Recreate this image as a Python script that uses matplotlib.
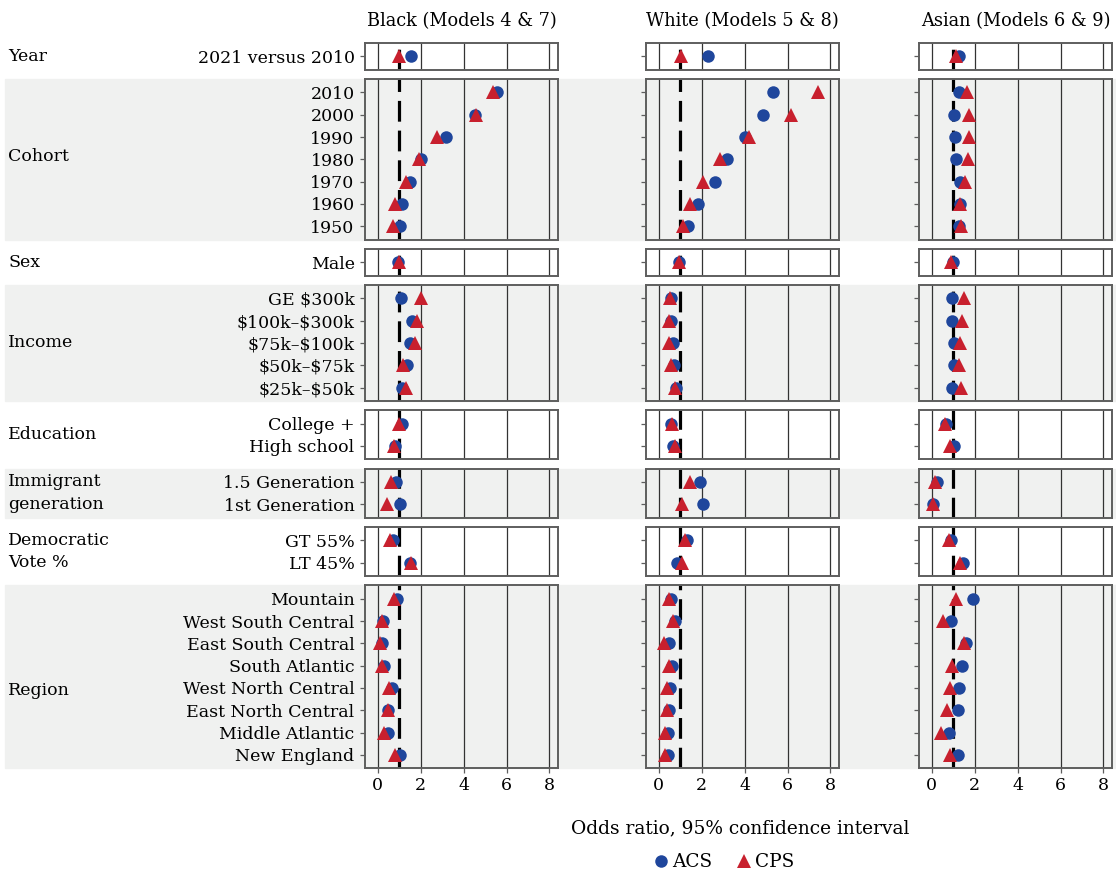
import matplotlib.pyplot as plt
from matplotlib.lines import Line2D
from matplotlib.patches import Rectangle

plt.rcParams['font.family'] = ['DejaVu Serif']
plt.rcParams['font.size'] = 12.5

W, H = 1116, 875

# row layout, top to bottom
groups = ['Year', 'Cohort', 'Sex', 'Income', 'Education',
          'Immigrant\ngeneration', 'Democratic\nVote %', 'Region']
group_sizes = [1, 7, 1, 5, 2, 2, 2, 8]
row_labels = ['2021 versus 2010',
              '2010', '2000', '1990', '1980', '1970', '1960', '1950',
              'Male',
              r'GE \$300k', r'\$100k–\$300k', r'\$75k–\$100k', r'\$50k–\$75k', r'\$25k–\$50k',
              'College +', 'High school',
              '1.5 Generation', '1st Generation',
              'GT 55%', 'LT 45%',
              'Mountain', 'West South Central', 'East South Central', 'South Atlantic',
              'West North Central', 'East North Central', 'Middle Atlantic', 'New England']

titles = ['Black (Models 4 & 7)', 'White (Models 5 & 8)', 'Asian (Models 6 & 9)']

# odds ratios, same order as row_labels
black_acs = [1.55, 5.55, 4.53, 3.20, 2.03, 1.50, 1.14, 1.05, 0.94,
             1.08, 1.61, 1.52, 1.36, 1.11, 1.13, 0.81, 0.86, 1.05, 0.70, 1.52,
             0.91, 0.23, 0.17, 0.27, 0.66, 0.48, 0.48, 1.05]
black_cps = [0.98, 5.39, 4.56, 2.77, 1.92, 1.33, 0.81, 0.70, 0.97,
             2.03, 1.83, 1.73, 1.17, 1.30, 0.98, 0.75, 0.59, 0.44, 0.55, 1.53,
             0.73, 0.17, 0.08, 0.20, 0.52, 0.48, 0.28, 0.80]
white_acs = [2.27, 5.31, 4.84, 4.00, 3.17, 2.64, 1.84, 1.38, 0.95,
             0.55, 0.56, 0.64, 0.69, 0.81, 0.55, 0.67, 1.92, 2.08, 1.31, 0.86,
             0.58, 0.73, 0.45, 0.61, 0.52, 0.45, 0.42, 0.42]
white_cps = [1.02, 7.44, 6.17, 4.22, 2.83, 2.06, 1.45, 1.14, 0.95,
             0.52, 0.48, 0.48, 0.56, 0.73, 0.63, 0.73, 1.45, 1.08, 1.23, 1.06,
             0.45, 0.67, 0.23, 0.45, 0.39, 0.36, 0.27, 0.27]
asian_acs = [1.27, 1.27, 1.02, 1.08, 1.14, 1.33, 1.30, 1.25, 0.98,
             0.92, 0.92, 1.02, 1.02, 0.95, 0.67, 1.05, 0.22, 0.06, 0.91, 1.45,
             1.92, 0.89, 1.59, 1.41, 1.27, 1.22, 0.80, 1.22]
asian_cps = [1.11, 1.64, 1.73, 1.72, 1.67, 1.55, 1.33, 1.36, 0.89,
             1.52, 1.41, 1.30, 1.25, 1.36, 0.63, 0.83, 0.16, 0.03, 0.80, 1.30,
             1.14, 0.50, 1.48, 0.95, 0.86, 0.70, 0.42, 0.83]

series = [(black_acs, black_cps), (white_acs, white_cps), (asian_acs, asian_cps)]
xticks = [0, 2, 4, 6, 8]

ACS_COL = '#1f469c'
CPS_COL = '#c8202e'
SHADE = '#f0f1f0'

fig = plt.figure(figsize=(W / 100, H / 100), dpi=100)

col_left = [365, 646, 919]
col_w = 193
top = 43
unit = 22.3
gap = 9.3
# vertical nudge (px) for a few group names
label_nudge = {'Cohort': -3, 'Region': 14}


def fx(px):
    return px / W


def fy(py):
    return 1 - py / H


y0 = top
start = 0
for g, (name, n) in enumerate(zip(groups, group_sizes)):
    h = (n + 0.2) * unit
    shaded = g % 2 == 1
    if shaded:
        fig.patches.append(Rectangle((fx(5), fy(y0 + h)), 1 - fx(5), h / H,
                                     transform=fig.transFigure, color=SHADE,
                                     zorder=-10))
    fig.text(fx(8), fy(y0 + h / 2 + label_nudge.get(name, 0)), name,
             ha='left', va='center', linespacing=1.45)
    labels = row_labels[start:start + n]
    ypos = [n - i for i in range(n)]
    for c in range(3):
        ax = fig.add_axes([fx(col_left[c]), fy(y0 + h), col_w / W, h / H])
        ax.set_facecolor(SHADE if shaded else 'white')
        ax.set_xlim(-0.6, 8.4)
        ax.set_ylim(0.4, n + 0.6)
        for xv in xticks:
            ax.axvline(xv, color='#333333', lw=0.9, zorder=1)
        ax.axvline(1, color='black', lw=2.3, ls=(0, (6.5, 2.8)), zorder=2)
        acs, cps = series[c]
        ax.plot(acs[start:start + n], ypos, 'o', color=ACS_COL, ms=9,
                mew=0, zorder=3)
        ax.plot(cps[start:start + n], ypos, '^', color=CPS_COL, ms=10.5,
                mew=0, zorder=4)
        for sp in ax.spines.values():
            sp.set_color('#5e5e5e')
            sp.set_linewidth(1.4)
        ax.set_yticks(ypos)
        if c == 0:
            ax.set_yticklabels(labels)
        else:
            ax.set_yticklabels([])
        ax.tick_params(axis='y', length=3.5, width=0.9, color='#5e5e5e', pad=4)
        ax.set_xticks(xticks)
        if g == len(groups) - 1:
            ax.tick_params(axis='x', length=3.5, width=0.9, color='#5e5e5e',
                           pad=3)
        else:
            ax.tick_params(axis='x', length=0, labelbottom=False)
        if g == 0:
            ax.set_title(titles[c], pad=12, fontsize=12.8)
    y0 += h + gap
    start += n

fig.text(fx(740), fy(828), 'Odds ratio, 95% confidence interval',
         ha='center', va='center', fontsize=13.4)

handles = [Line2D([], [], ls='none', marker='o', color=ACS_COL, ms=9, mew=0),
           Line2D([], [], ls='none', marker='^', color=CPS_COL, ms=9.5, mew=0)]
fig.legend(handles, ['ACS', 'CPS'], loc='center', bbox_to_anchor=(fx(724), fy(862)),
           ncol=2, frameon=False, handlelength=0.8, handletextpad=0.2,
           columnspacing=1.3, fontsize=13.3)

fig.savefig('out.png', dpi=100)
